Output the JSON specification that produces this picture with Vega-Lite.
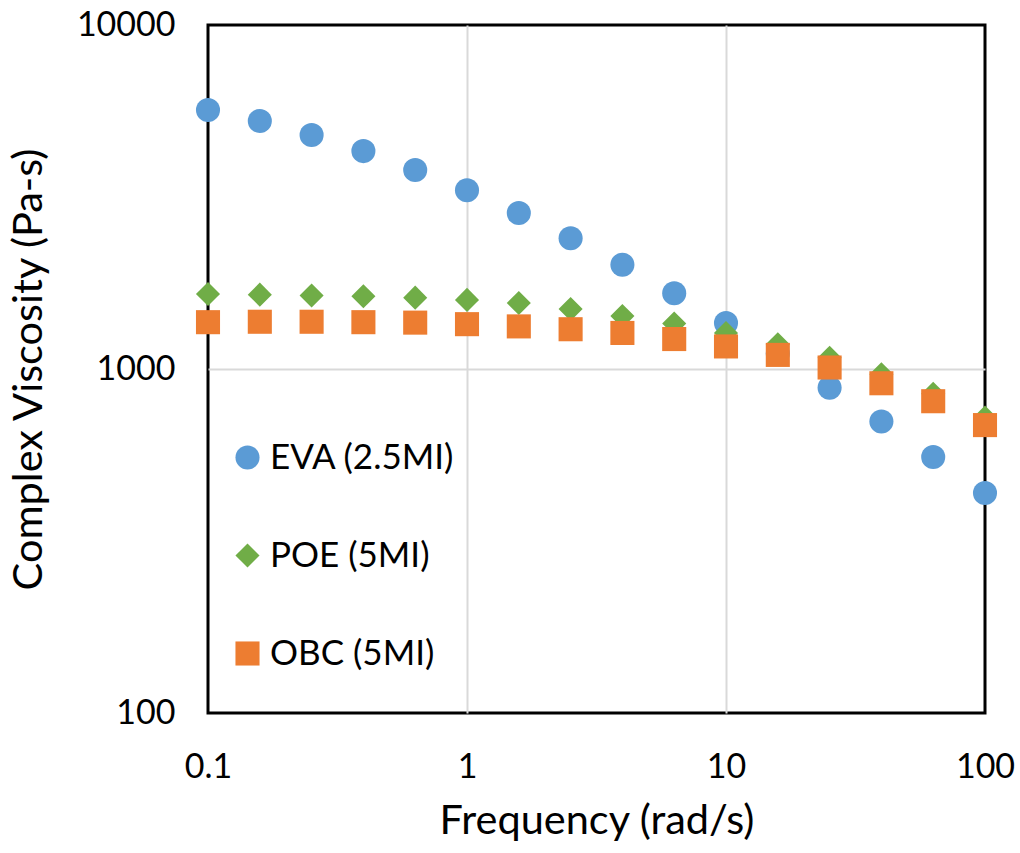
{
  "$schema": "https://vega.github.io/schema/vega-lite/v6.json",
  "autosize": "none",
  "width": 777,
  "height": 688,
  "padding": {"left": 208, "top": 25, "right": 35, "bottom": 140},
  "background": "white",
  "config": {
    "font": "Lato",
    "view": {"stroke": "black", "strokeWidth": 3},
    "axis": {"domain": false, "ticks": false, "tickSize": 0, "gridColor": "#d9d9d9", "gridWidth": 2, "labelColor": "black", "titleColor": "black", "labelFont": "Lato", "titleFont": "Lato", "titleFontWeight": "normal", "labelFlush": false}
  },
  "data": {"values": [
    {"f": 0.1, "v": 5660, "s": "EVA (2.5MI)"},
    {"f": 0.1585, "v": 5260, "s": "EVA (2.5MI)"},
    {"f": 0.2512, "v": 4790, "s": "EVA (2.5MI)"},
    {"f": 0.3981, "v": 4300, "s": "EVA (2.5MI)"},
    {"f": 0.631, "v": 3790, "s": "EVA (2.5MI)"},
    {"f": 1, "v": 3310, "s": "EVA (2.5MI)"},
    {"f": 1.585, "v": 2840, "s": "EVA (2.5MI)"},
    {"f": 2.512, "v": 2400, "s": "EVA (2.5MI)"},
    {"f": 3.981, "v": 2010, "s": "EVA (2.5MI)"},
    {"f": 6.31, "v": 1660, "s": "EVA (2.5MI)"},
    {"f": 10, "v": 1360, "s": "EVA (2.5MI)"},
    {"f": 15.85, "v": 1110, "s": "EVA (2.5MI)"},
    {"f": 25.12, "v": 882, "s": "EVA (2.5MI)"},
    {"f": 39.81, "v": 704, "s": "EVA (2.5MI)"},
    {"f": 63.1, "v": 555, "s": "EVA (2.5MI)"},
    {"f": 100, "v": 436, "s": "EVA (2.5MI)"},
    {"f": 0.1, "v": 1652, "s": "POE (5MI)"},
    {"f": 0.1585, "v": 1645, "s": "POE (5MI)"},
    {"f": 0.2512, "v": 1635, "s": "POE (5MI)"},
    {"f": 0.3981, "v": 1628, "s": "POE (5MI)"},
    {"f": 0.631, "v": 1612, "s": "POE (5MI)"},
    {"f": 1, "v": 1588, "s": "POE (5MI)"},
    {"f": 1.585, "v": 1555, "s": "POE (5MI)"},
    {"f": 2.512, "v": 1494, "s": "POE (5MI)"},
    {"f": 3.981, "v": 1425, "s": "POE (5MI)"},
    {"f": 6.31, "v": 1355, "s": "POE (5MI)"},
    {"f": 10, "v": 1273, "s": "POE (5MI)"},
    {"f": 15.85, "v": 1180, "s": "POE (5MI)"},
    {"f": 25.12, "v": 1078, "s": "POE (5MI)"},
    {"f": 39.81, "v": 965, "s": "POE (5MI)"},
    {"f": 63.1, "v": 847, "s": "POE (5MI)"},
    {"f": 100, "v": 723, "s": "POE (5MI)"},
    {"f": 0.1, "v": 1368, "s": "OBC (5MI)"},
    {"f": 0.1585, "v": 1372, "s": "OBC (5MI)"},
    {"f": 0.2512, "v": 1372, "s": "OBC (5MI)"},
    {"f": 0.3981, "v": 1368, "s": "OBC (5MI)"},
    {"f": 0.631, "v": 1364, "s": "OBC (5MI)"},
    {"f": 1, "v": 1350, "s": "OBC (5MI)"},
    {"f": 1.585, "v": 1330, "s": "OBC (5MI)"},
    {"f": 2.512, "v": 1305, "s": "OBC (5MI)"},
    {"f": 3.981, "v": 1273, "s": "OBC (5MI)"},
    {"f": 6.31, "v": 1222, "s": "OBC (5MI)"},
    {"f": 10, "v": 1163, "s": "OBC (5MI)"},
    {"f": 15.85, "v": 1099, "s": "OBC (5MI)"},
    {"f": 25.12, "v": 1010, "s": "OBC (5MI)"},
    {"f": 39.81, "v": 909, "s": "OBC (5MI)"},
    {"f": 63.1, "v": 806, "s": "OBC (5MI)"},
    {"f": 100, "v": 687, "s": "OBC (5MI)"}
  ]},
  "mark": {"type": "point", "filled": true, "opacity": 1, "size": 580},
  "encoding": {
    "x": {"field": "f", "type": "quantitative", "scale": {"type": "log", "domain": [0.1, 100], "nice": false},
      "axis": {"values": [0.1, 1, 10, 100], "format": "~g", "title": "Frequency (rad/s)", "labelFontSize": 34, "titleFontSize": 41.5, "labelPadding": 37, "titleY": 120, "titleBaseline": "alphabetic",
        "gridColor": {"condition": {"test": "datum.value == 0.1 || datum.value == 100", "value": "transparent"}, "value": "#d9d9d9"}}},
    "y": {"field": "v", "type": "quantitative", "scale": {"type": "log", "domain": [100, 10000], "nice": false},
      "axis": {"values": [100, 1000, 10000], "format": "d", "title": "Complex Viscosity (Pa-s)", "labelFontSize": 34, "titleFontSize": 41.5, "labelPadding": 33, "titleX": -158, "titleBaseline": "bottom",
        "gridColor": {"condition": {"test": "datum.value == 100 || datum.value == 10000", "value": "transparent"}, "value": "#d9d9d9"}}},
    "color": {"field": "s", "type": "nominal", "scale": {"domain": ["EVA (2.5MI)", "POE (5MI)", "OBC (5MI)"], "range": ["#5B9BD5", "#70AD47", "#ED7D31"]},
      "legend": {"orient": "none", "legendX": 22, "legendY": 415, "title": null, "labelFontSize": 35, "labelLimit": 500, "labelColor": "black", "symbolSize": 580, "rowPadding": 62, "labelOffset": 5, "padding": 0, "symbolStrokeWidth": 0}},
    "shape": {"field": "s", "type": "nominal", "scale": {"domain": ["EVA (2.5MI)", "POE (5MI)", "OBC (5MI)"], "range": ["circle", "diamond", "square"]}, "legend": null}
  }
}
